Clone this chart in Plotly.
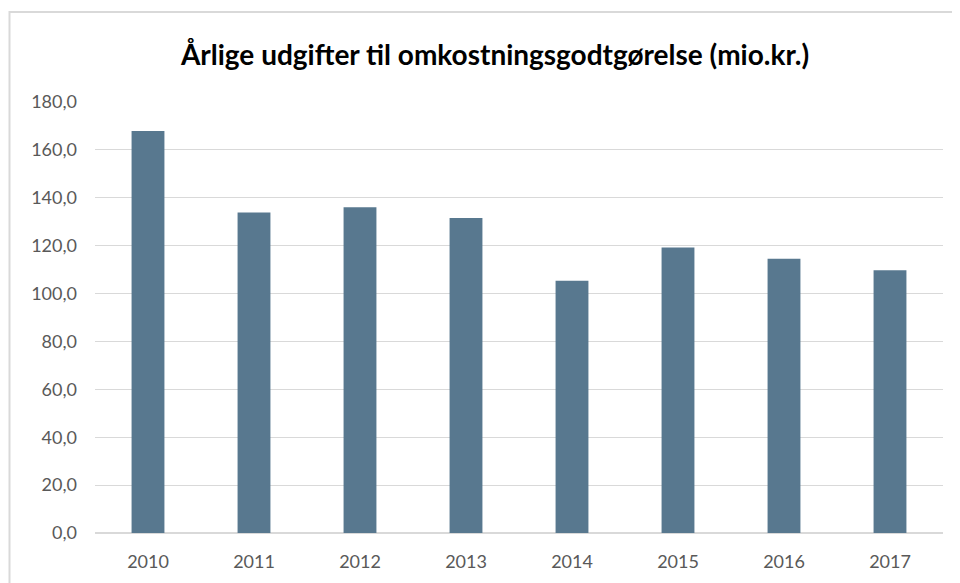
import plotly.graph_objects as go

years = ["2010", "2011", "2012", "2013", "2014", "2015", "2016", "2017"]
values = [167.9, 133.8, 136.0, 131.6, 105.4, 119.2, 114.5, 109.7]
title = "Årlige udgifter til omkostningsgodtgørelse (mio.kr.)"

OFF = 8  # page body margin offset
W, H = 960, 583
# target plot area in page pixels: x 95..943, y 102.3..533.3
ml = 95 - OFF
mt = 102 - OFF
mr = W + OFF - 943
mb = H + OFF - 533
pw = W - ml - mr
ph = H - mt - mb

fig = go.Figure(go.Bar(x=years, y=values, marker=dict(color="#58788F", line=dict(width=0)), width=0.31))

fig.update_layout(
    width=W, height=H,
    margin=dict(l=ml, r=mr, t=mt, b=mb, pad=0),
    paper_bgcolor="white", plot_bgcolor="white",
    separators=", ",
    showlegend=False,
    title=dict(text="<b>" + title + "</b>", x=(495 - 95) / pw, xref="paper", xanchor="center",
               y=1 - (55 - OFF) / H, yanchor="middle",
               font=dict(family="Lato, Open Sans, sans-serif", size=28, color="#000000")),
    font=dict(family="Lato, Open Sans, sans-serif", size=18, color="#595959"),
    bargap=0.69,
)
fig.update_yaxes(range=[0, 180], dtick=20, tickformat=".1f", showgrid=True, gridcolor="#D9D9D9",
                 gridwidth=1, zeroline=True, zerolinecolor="#D9D9D9", showline=False, ticks="",
                 ticklabelstandoff=17, tickfont=dict(size=18, color="#595959"))
fig.update_xaxes(showgrid=False, showline=True, linecolor="#D9D9D9", ticks="",
                 ticklabelstandoff=12, tickfont=dict(size=18, color="#595959"))

# outer chart border
fig.add_shape(type="rect", xref="paper", yref="paper",
              x0=(9.5 - 95) / pw, x1=(W + 40 - 95) / pw,
              y0=-60 / ph, y1=(533 - 12) / ph,
              line=dict(color="#D9D9D9", width=2), fillcolor="rgba(0,0,0,0)", layer="below")

fig.write_html("out.html")
